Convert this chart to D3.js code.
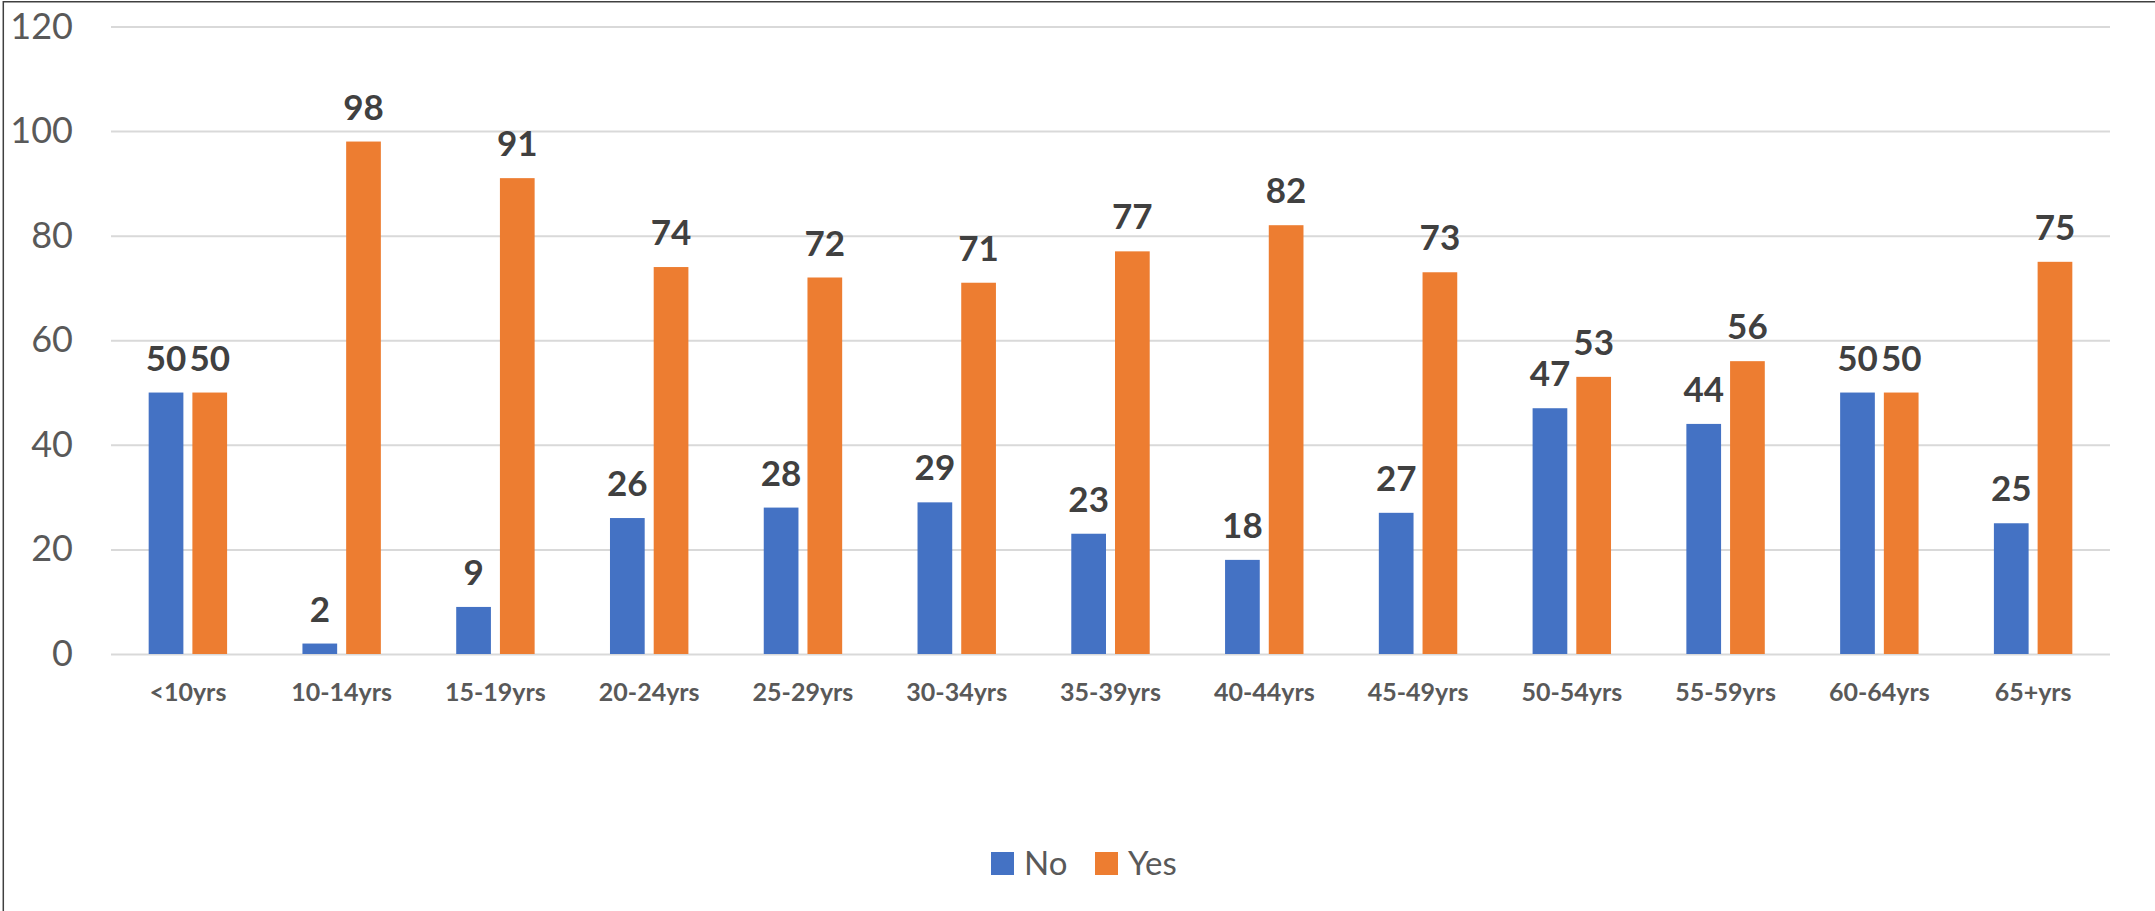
<!DOCTYPE html>
<html>
<head>
<meta charset="utf-8">
<script src="https://cdn.jsdelivr.net/npm/d3@7"></script>
<style>
  body { margin: 0; background: #fff; }
  text { font-family: Lato, "Open Sans", sans-serif; }
</style>
</head>
<body>
<div id="chart"></div>
<script>
var categories = ['<10yrs', '10-14yrs', '15-19yrs', '20-24yrs', '25-29yrs', '30-34yrs', '35-39yrs',
  '40-44yrs', '45-49yrs', '50-54yrs', '55-59yrs', '60-64yrs', '65+yrs'];
var seriesNames = ['No', 'Yes'];
var noValues = [50, 2, 9, 26, 28, 29, 23, 18, 27, 47, 44, 50, 25];
var yesValues = [50, 98, 91, 74, 72, 71, 77, 82, 73, 53, 56, 50, 75];
var yTicks = [0, 20, 40, 60, 80, 100, 120];

var width = 2155, height = 911;
var margin = { top: 26.5, right: 45, bottom: 257, left: 111 };
var colors = { No: '#4472C4', Yes: '#ED7D31' };

var data = categories.map((c, i) => ({ cat: c, No: noValues[i], Yes: yesValues[i] }));

//Create SVG element
var svg = d3.select("#chart")
  .append("svg")
  .attr("width", width)
  .attr("height", height);

// frame edges (only top and left show in the original)
svg.append("line")
  .attr("x1", 3).attr("y1", 1.7)
  .attr("x2", width).attr("y2", 1.7)
  .attr("stroke", "#404040")
  .attr("stroke-width", 1.5);

svg.append("line")
  .attr("x1", 3.3).attr("y1", 1)
  .attr("x2", 3.3).attr("y2", height)
  .attr("stroke", "#404040")
  .attr("stroke-width", 1.5);

var x0 = d3.scaleBand()
  .domain(categories)
  .range([margin.left, width - margin.right])
  .paddingInner(0.49)
  .paddingOuter(0.245);

var x1 = d3.scaleBand()
  .domain(seriesNames)
  .range([0, x0.bandwidth()])
  .paddingInner(0.206);

var yScale = d3.scaleLinear()
  .domain([0, 120])
  .range([height - margin.bottom, margin.top]);

// Y grid
svg.append("g")
  .attr("transform", `translate(${margin.left},0)`)
  .attr("class", "grid")
  .call(d3.axisLeft(yScale).tickValues(yTicks).tickSize(-(width - margin.left - margin.right)).tickFormat(""))
  .call(g => g.select(".domain").remove())
  .selectAll("line")
  .attr("stroke", "#d9d9d9")
  .attr("stroke-width", 2);

// Y axis labels
svg.append("g")
  .attr("transform", `translate(${margin.left},0)`)
  .attr("class", "y-axis")
  .call(d3.axisLeft(yScale).tickValues(yTicks).tickSize(0).tickPadding(38))
  .call(g => g.select(".domain").remove())
  .selectAll("text")
  .style("font-size", "36px")
  .style("font-family", "Lato, sans-serif")
  .attr("fill", "#595959");

// X axis labels
svg.append("g")
  .attr("transform", `translate(0,${height - margin.bottom})`)
  .attr("class", "x-axis")
  .call(d3.axisBottom(x0).tickSize(0).tickPadding(29))
  .call(g => g.select(".domain").remove())
  .selectAll("text")
  .style("font-size", "25px")
  .style("font-weight", "bold")
  .style("font-family", "Lato, sans-serif")
  .attr("fill", "#595959");

// bars
var groups = svg.append("g")
  .selectAll("g")
  .data(data)
  .enter()
  .append("g")
  .attr("transform", d => `translate(${x0(d.cat)},0)`);

groups.selectAll("rect")
  .data(d => seriesNames.map(k => ({ key: k, value: d[k] })))
  .enter()
  .append("rect")
  .attr("x", d => x1(d.key))
  .attr("y", d => yScale(d.value))
  .attr("width", x1.bandwidth())
  .attr("height", d => yScale(0) - yScale(d.value))
  .attr("fill", d => colors[d.key]);

// value labels
groups.selectAll("text")
  .data(d => seriesNames.map(k => ({ key: k, value: d[k] })))
  .enter()
  .append("text")
  .attr("x", d => x1(d.key) + x1.bandwidth() / 2)
  .attr("y", d => yScale(d.value) - 22)
  .attr("text-anchor", "middle")
  .style("font-size", "35px")
  .style("font-weight", "bold")
  .attr("fill", "#404040")
  .text(d => d.value);

// legend
var legend = svg.append("g")
  .attr("class", "legend");

var legendX = { No: 991, Yes: 1095 };

legend.selectAll("rect")
  .data(seriesNames)
  .enter()
  .append("rect")
  .attr("x", d => legendX[d])
  .attr("y", 852)
  .attr("width", 23)
  .attr("height", 23)
  .attr("fill", d => colors[d]);

legend.selectAll("text")
  .data(seriesNames)
  .enter()
  .append("text")
  .attr("x", d => legendX[d] + 33)
  .attr("y", 875)
  .style("font-size", "33px")
  .attr("fill", "#595959")
  .text(d => d);
</script>
</body>
</html>
